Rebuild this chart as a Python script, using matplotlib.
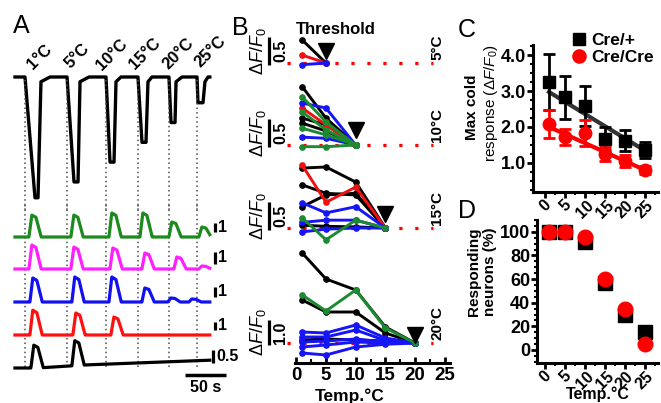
import numpy as np
import matplotlib.pyplot as plt
from matplotlib.lines import Line2D
from matplotlib.transforms import offset_copy

plt.rcParams['font.family'] = ['Liberation Sans', 'DejaVu Sans']
plt.rcParams['mathtext.fontset'] = 'custom'
plt.rcParams['mathtext.rm'] = 'Liberation Sans'
plt.rcParams['mathtext.it'] = 'Liberation Sans:italic'
plt.rcParams['mathtext.bf'] = 'Liberation Sans:bold'

# ---------------- data ----------------
# panel A: cold steps (s) and the temperature reached
stim_temps = [1, 5, 10, 15, 20, 25]
base_temp = 31.5
stim_on = [14.6, 65.9, 113.4, 152.4, 190.2, 224.4]
stim_min_start = [26.8, 74.4, 118.3, 157.3, 192.7, 225.6]
stim_min_end = [30.5, 79.3, 123.2, 162.2, 197.6, 231.7]
stim_rise = [34.1, 81.7, 125.6, 164.6, 198.8, 234.1]
stim_settle = [45.1, 92.7, 131.7, 169.5, 206.1, 237.8]
trace_start, trace_end = 2.4, 240.0

# panel A: calcium peaks of five example neurons (time s, dF/F)
ca_names = ['green', 'magenta', 'blue', 'red', 'black']
ca_peak_t = {
    'green': [24.4, 75.6, 122.0, 159.8, 195.1, 231.7],
    'magenta': [24.4, 75.6, 123.2, 162.2, 201.2, 231.7],
    'blue': [25.6, 76.8, 122.0, 162.2, 193.9, 219.5],
    'red': [25.6, 78.0, 124.4],
    'black': [26.8, 76.8],
}
ca_peak_amp = {
    'green': [2.44, 2.44, 2.67, 2.67, 1.67, 1.11],
    'magenta': [2.0, 1.83, 1.75, 1.33, 1.0, 0.25],
    'blue': [2.4, 2.5, 2.5, 1.4, 0.4, 0.3],
    'red': [3.1, 2.75, 2.25],
    'black': [0.88, 0.96],
}
ca_bar = {'green': 1, 'magenta': 1, 'blue': 1, 'red': 1, 'black': 0.5}
black_drift_t = [0, 30, 90, 240]
black_drift = [0, 0, 0.12, 0.3]

# panel B: responses (dF/F) at 1, 5, 10, 15, 20 C, one block per threshold
b_temps = [1, 5, 10, 15, 20]
b_thresholds = [5, 10, 15, 20]
b_bar_vals = [0.5, 0.5, 0.5, 1.0]
b_lines = [
    [('k', [0.41, 0]), ('r', [0.14, 0]), ('b', [-0.03, 0])],
    [('k', [1.04, 0.48, 0]), ('k', [0.48, 0.36, 0]), ('k', [0.39, 0.25, 0]),
     ('r', [0.66, 0.36, 0]),
     ('b', [0.75, 0.66, 0]), ('b', [0.14, 0.12, 0]),
     ('g', [0.86, 0.41, 0]), ('g', [0.59, 0.27, 0]), ('g', [0.30, 0.18, 0]),
     ('g', [-0.03, -0.03, 0])],
    [('k', [1.07, 1.09, 0.82, 0]), ('k', [0.77, 0.62, 0.59, 0]),
     ('k', [0.38, 0.59, 0.62, 0]), ('k', [0.05, 0.03, 0.02, 0]),
     ('r', [1.12, 0.46, 0.73, 0]),
     ('b', [0.45, 0.27, 0.38, 0]), ('b', [0.10, 0.14, 0.14, 0]),
     ('b', [-0.07, -0.02, 0.0, 0]),
     ('g', [0.18, -0.21, 0.14, 0])],
    [('k', [3.6, 2.56, 2.12, 0.64, 0]), ('k', [1.72, 1.24, 1.24, 0.4, 0]),
     ('k', [0.12, 0.16, 0.12, 0.08, 0]),
     ('b', [0.44, 0.4, 0.72, 0.2, 0]), ('b', [0.24, 0.24, 0.52, 0.1, 0]),
     ('b', [0.04, 0.08, 0.16, 0.04, 0]), ('b', [-0.16, -0.08, 0.04, 0, 0]),
     ('b', [-0.4, -0.48, -0.16, -0.05, 0]),
     ('g', [1.92, 1.28, 2.12, 0.6, 0])],
]

# panel C: max cold response, mean +- sem
c_temps = [1, 5, 10, 15, 20, 25]
het_mean = [3.25, 2.83, 2.58, 1.67, 1.62, 1.36]
het_err = [0.78, 0.6, 0.55, 0.32, 0.3, 0.22]
hom_mean = [2.08, 1.72, 1.83, 1.25, 1.06, 0.8]
hom_err = [0.4, 0.22, 0.35, 0.2, 0.17, 0.12]
het_fit = (3.04, -0.068)   # intercept, slope
hom_fit = (2.05, -0.05)

# panel D: responding neurons (%)
d_temps = [1, 5, 10, 15, 20, 25]
d_het = [100, 100, 91, 57, 30, 15]
d_hom = [100, 100, 96, 60, 35, 5]

# ---------------- figure ----------------
W, H = 661, 403
fig = plt.figure(figsize=(W / 100, H / 100), dpi=100)

RED = '#ff0000'
line_col = {'k': 'black', 'r': '#f01010', 'b': '#1515f5', 'g': '#1c8a30'}
ca_col = {'green': '#1c8a1c', 'magenta': '#ff20ff', 'blue': '#1010f0',
          'red': '#ff1010', 'black': 'black'}


def px_axes(x0, y0, x1, y1):
    ax = fig.add_axes([x0 / W, 1 - y1 / H, (x1 - x0) / W, (y1 - y0) / H])
    ax.patch.set_alpha(0)
    return ax


def ftext(x, y, s, **kw):
    fig.text(x / W, 1 - y / H, s, **kw)


# ---- panel A ----
def t_of(px):
    return (px - 13) / 0.82


axT = px_axes(10, 40, 235, 210)
axT.set_xlim(t_of(10), t_of(235))
axT.set_ylim(base_temp - (210 - 77) / 3.96, base_temp + (77 - 40) / 3.96)
axT.axis('off')
tt, TT = [trace_start], [base_temp]
for on, m0, m1, r, s, T in zip(stim_on, stim_min_start, stim_min_end,
                               stim_rise, stim_settle, stim_temps):
    tt += [on, m0, m1, r, s]
    TT += [base_temp, T, T, base_temp - 1.2, base_temp]
tt.append(trace_end)
TT.append(base_temp)
axT.plot(tt, TT, color='k', lw=2.4, solid_joinstyle='round')
for on in stim_on:
    axT.plot([on, on], [base_temp - 0.8, axT.get_ylim()[0]], color='0.3',
             lw=1.1, ls=(0, (1, 2)))
lab_px = [(40, 57), (77, 56), (112, 55), (145, 54), (178, 54), (210, 52)]
for T, (lx, ly) in zip(stim_temps, lab_px):
    ftext(lx, ly, f'{T}°C', rotation=45, ha='center', va='center',
          fontsize=12, fontweight='bold')

axC = px_axes(10, 205, 235, 400)
axC.set_xlim(t_of(10), t_of(235))
axC.set_ylim(0, 19.5)
axC.axis('off')
for on in stim_on:
    axC.plot([on, on], [19.5, 3.3], color='0.3', lw=1.1, ls=(0, (1, 2)))

ca_offset = {'green': 16.3, 'magenta': 13.1, 'blue': 9.8, 'red': 6.5, 'black': 3.2}
ca_gain = {'green': 0.9, 'magenta': 1.2, 'blue': 1.0, 'red': 0.8, 'black': 2.6}
t = np.linspace(trace_start, trace_end, 1500)
for name in ca_names:
    y = np.zeros_like(t)
    for tp, a in zip(ca_peak_t[name], ca_peak_amp[name]):
        y += a * np.interp(t - tp, [-5, -1.5, 3.5, 10], [0, 1, 0.9, 0])
    if name == 'black':
        y += np.interp(t, black_drift_t, black_drift)
    g, off = ca_gain[name], ca_offset[name]
    axC.plot(t, off + g * y, color=ca_col[name], lw=2.3)
    bx0 = t_of(213) if name == 'black' else t_of(215)
    b0, b1 = off + 0.5, off + 0.5 + g * ca_bar[name]
    axC.plot([bx0, bx0], [b0, b1], color='k', lw=2.3, solid_capstyle='butt')
    axC.text(bx0 + 4, (b0 + b1) / 2, f'{ca_bar[name]:g}', ha='left',
             va='center', fontsize=11.5, fontweight='bold', clip_on=False)
axC.plot([t_of(185), t_of(185) + 50], [2.5, 2.5], color='k', lw=2.5,
         solid_capstyle='butt')
axC.text(t_of(185) + 25, 1.2, '50 s', ha='center', va='center', fontsize=11.5,
         fontweight='bold')

# ---- panel B ----
def bx(px):
    return (px - 296.3) / 5.94


B_layout = [(28, 80, 63, 56, 12), (80, 160, 145, 56, 15),
            (155, 250, 228, 56, 14), (245, 363, 343, 25, 8)]
for i, (top, bot, base, s, tri) in enumerate(B_layout):
    ax = px_axes(250, top, 450, bot)
    ax.set_xlim(bx(250), bx(450))
    ax.set_ylim((base - bot) / s, (base - top) / s)
    ax.plot([bx(287), bx(433)], [0, 0], color=RED, lw=2.3, ls=(0, (1, 4)),
            clip_on=False)
    for c, vals in b_lines[i]:
        ax.plot(b_temps[:len(vals)], vals, color=line_col[c], lw=2.1,
                marker='o', ms=3.8, clip_on=False)
    ax.plot(b_thresholds[i], 0, marker='v', ms=11, color='k', clip_on=False,
            transform=offset_copy(ax.transData, fig=fig, y=tri, units='dots'))
    bar = b_bar_vals[i]
    lo = -2 / s
    ax.plot([bx(269), bx(269)], [lo, lo + bar], color='k', lw=2.3,
            solid_capstyle='butt', clip_on=False)
    ym = lo + bar / 2
    ax.text(bx(258), ym, r'$\Delta F/F_0$', rotation=90, ha='center',
            va='center', fontsize=13)
    ax.text(bx(281), ym, f'{bar:.1f}', rotation=90, ha='center', va='center',
            fontsize=11.5, fontweight='bold')
    ax.text(bx(437), 3 / s, f'{b_thresholds[i]}°C', rotation=90,
            rotation_mode='anchor', ha='left', va='center', fontsize=11,
            fontweight='bold')
    for sp in ['top', 'right', 'left']:
        ax.spines[sp].set_visible(False)
    ax.set_yticks([])
    if i < 3:
        ax.spines['bottom'].set_visible(False)
        ax.set_xticks([])
    else:
        ax.spines['bottom'].set_linewidth(2.2)
        ax.spines['bottom'].set_bounds(bx(295), bx(450))
        ax.set_xticks([0, 5, 10, 15, 20, 25])
        ax.set_xticks(np.arange(0, 26, 2.5), minor=True)
        ax.tick_params(axis='x', which='major', direction='in', length=4,
                       width=2, pad=3, labelsize=13.5)
        ax.tick_params(axis='x', which='minor', direction='in', length=3,
                       width=1.5)
        for lb in ax.get_xticklabels():
            lb.set_fontweight('bold')
        ax.set_xlabel('Temp.°C', fontsize=12.5, fontweight='bold', labelpad=3)
ftext(336, 29, 'Threshold', ha='center', va='center', fontsize=12,
      fontweight='bold')


def style_axes(ax):
    for sp in ['top', 'right']:
        ax.spines[sp].set_visible(False)
    for sp in ['left', 'bottom']:
        ax.spines[sp].set_linewidth(2.2)
    ax.tick_params(which='major', direction='out', length=4, width=2, pad=1)
    ax.tick_params(which='minor', direction='out', length=2.5, width=1.5)
    ax.tick_params(axis='y', labelsize=13)
    ax.tick_params(axis='x', labelsize=11.5, labelrotation=45, pad=0)
    ax.set_xticks([0, 5, 10, 15, 20, 25])
    ax.set_xticks(np.arange(0, 28, 2.5), minor=True)
    for lb in ax.get_xticklabels() + ax.get_yticklabels():
        lb.set_fontweight('bold')


# ---- panel C ----
axCm = px_axes(533, 45, 658, 192)
axCm.set_xlim(-3, 28.25)
axCm.set_ylim(0.19, 4.28)
axCm.set_yticks([1, 2, 3, 4])
axCm.set_yticklabels(['1.0', '2.0', '3.0', '4.0'])
axCm.set_yticks(np.arange(0.25, 4.3, 0.25), minor=True)
style_axes(axCm)
xs = np.array([c_temps[0], c_temps[-1]])
axCm.plot(xs, het_fit[0] + het_fit[1] * xs, color='#333333', lw=3)
axCm.errorbar(c_temps, het_mean, yerr=het_err, fmt='s', color='k', ms=8.5,
              elinewidth=2, capsize=4, capthick=2, clip_on=False)
axCm.plot(xs, hom_fit[0] + hom_fit[1] * xs, color=RED, lw=3)
axCm.errorbar(c_temps, hom_mean, yerr=hom_err, fmt='o', color=RED, ms=9,
              elinewidth=2, capsize=4, capthick=2, clip_on=False)
handles = [Line2D([], [], ls='none', marker='s', color='k', ms=8),
           Line2D([], [], ls='none', marker='o', color=RED, ms=9.5)]
axCm.legend(handles, ['Cre/+', 'Cre/Cre'], loc='upper left',
            bbox_to_anchor=(572 / W, 1 - 33 / H), bbox_transform=fig.transFigure,
            frameon=False, handlelength=0.8, handletextpad=0.3,
            labelspacing=0.1, borderpad=0, borderaxespad=0,
            prop=dict(weight='bold', size=12.5))
ftext(472, 107, 'Max cold', rotation=90, ha='center', va='center',
      fontsize=11, fontweight='bold')
ftext(491, 103, r'response ($\Delta F/F_0$)', rotation=90, ha='center',
      va='center', fontsize=11)

# ---- panel D ----
axD = px_axes(537, 220, 658, 363)
axD.set_xlim(-2, 28.25)
axD.set_ylim(-11, 110)
axD.set_yticks(np.arange(0, 101, 20))
axD.set_yticks(np.arange(-10, 111, 5), minor=True)
style_axes(axD)
axD.plot(d_temps, d_het, 's', color='k', ms=9.5, clip_on=False)
axD.plot(d_temps, d_hom, 'o', color=RED, ms=10.5, clip_on=False)
axD.set_xlabel('Temp.°C', fontsize=11.5, fontweight='bold', labelpad=-4)
ftext(474, 272, 'Responding', rotation=90, ha='center', va='center',
      fontsize=11, fontweight='bold')
ftext(490, 272, 'neurons (%)', rotation=90, ha='center', va='center',
      fontsize=11, fontweight='bold')

# panel letters
for lx, ly, lt in [(13, 33, 'A'), (232, 35, 'B'), (458, 37, 'C'), (458, 218, 'D')]:
    ftext(lx, ly, lt, ha='left', va='baseline', fontsize=18)

fig.savefig('out.png', dpi=100)
